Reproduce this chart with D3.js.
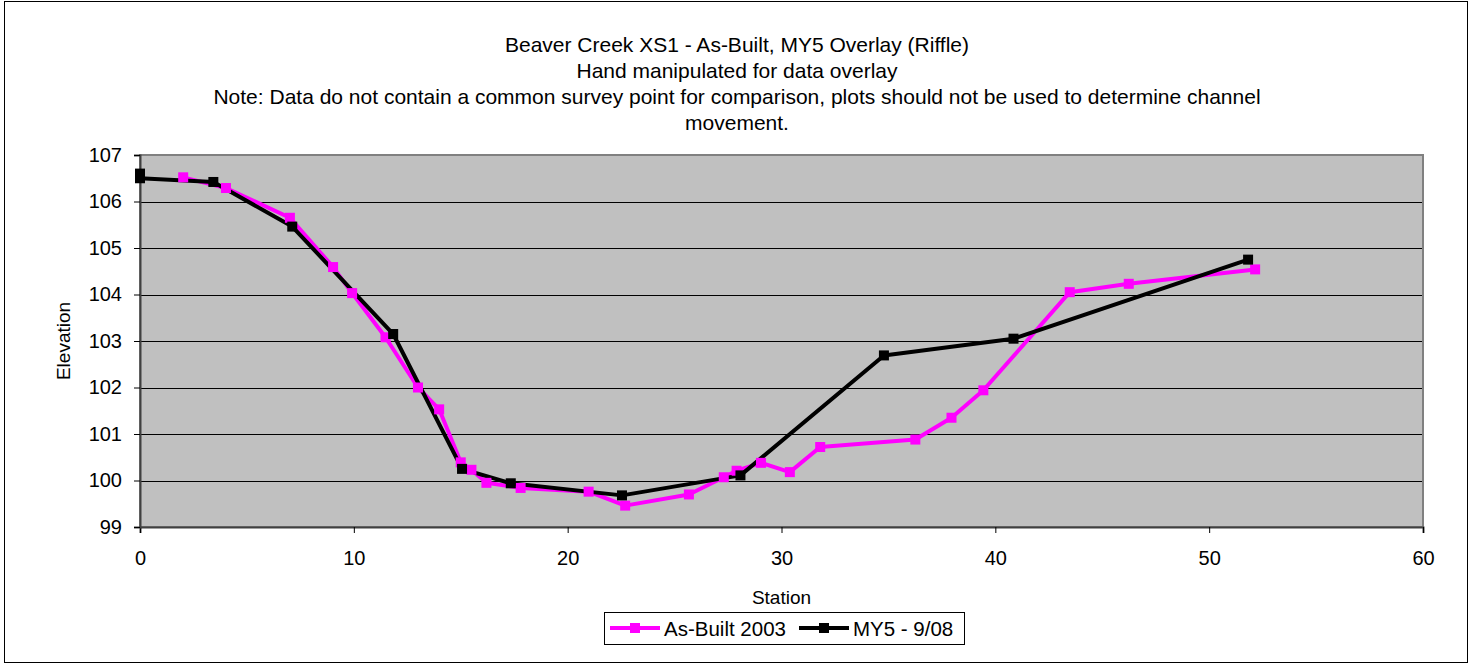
<!DOCTYPE html>
<html><head><meta charset="utf-8">
<script src="https://cdn.jsdelivr.net/npm/d3@7"></script>
<style>body{margin:0;background:#fff}svg text{font-family:"Liberation Sans",Arial,sans-serif;fill:#000}</style>
</head><body><svg id="c" width="1470" height="664"></svg>
<script>
const titleLines = ["Beaver Creek XS1 - As-Built, MY5 Overlay (Riffle)","Hand manipulated for data overlay","Note: Data do not contain a common survey point for comparison, plots should not be used to determine channel","movement."];
const seriesNames = ["As-Built 2003","MY5 - 9/08"];
const asBuiltStation = [2.02,4.02,7.01,9.03,9.92,11.48,13.0,13.99,15.0,15.5,16.2,17.8,20.98,22.69,25.67,27.3,27.9,29.04,30.39,31.81,36.26,37.95,39.44,43.48,46.24,52.15];
const asBuiltElev =    [106.52,106.29,105.65,104.59,104.03,103.08,102.0,101.53,100.39,100.23,99.95,99.84,99.76,99.46,99.70,100.07,100.21,100.38,100.18,100.72,100.88,101.35,101.94,104.05,104.23,104.54];
const my5Station = [0,0,3.43,7.12,11.84,15.06,17.34,22.54,28.08,34.79,40.85,51.82];
const my5Elev =    [106.6,106.5,106.42,105.46,103.15,100.25,99.94,99.68,100.11,102.69,103.05,104.75];
const xTicks = [0,10,20,30,40,50,60];
const yTicks = [99,100,101,102,103,104,105,106,107];

const svg = d3.select("#c");
const L=140,R=1423,T=155,B=527;
const x = d3.scaleLinear().domain([0,60]).range([L,R]);
const y = d3.scaleLinear().domain([99,107]).range([B,T]);

svg.append("rect").attr("x",4.5).attr("y",1.5).attr("width",1463).attr("height",661).attr("fill","#fff").attr("stroke","#000").attr("stroke-width",1);

// title
const t = svg.append("text").attr("text-anchor","middle").attr("font-size",21);
titleLines.forEach((s,i)=>t.append("tspan").attr("x",737).attr("y",[52,78,104,130][i]).text(s));

// plot area
svg.append("rect").attr("x",L).attr("y",T).attr("width",R-L).attr("height",B-T).attr("fill","#c0c0c0");
svg.append("g").selectAll("line").data(yTicks.slice(1)).join("line")
  .attr("x1",L).attr("x2",R).attr("y1",d=>Math.round(y(d))+0.5).attr("y2",d=>Math.round(y(d))+0.5)
  .attr("stroke","#000").attr("stroke-width",1);
svg.append("rect").attr("x",L).attr("y",T).attr("width",R-L).attr("height",B-T).attr("fill","none").attr("stroke","#808080").attr("stroke-width",2);

// axes
const xa = svg.append("g").attr("transform",`translate(0,${B})`).call(d3.axisBottom(x).tickValues(xTicks).tickSize(6).tickPadding(18));
const ya = svg.append("g").attr("transform",`translate(${L},0)`).call(d3.axisLeft(y).tickValues(yTicks).tickSize(6).tickPadding(12));
[xa,ya].forEach(a=>{a.select(".domain").attr("stroke","#404040").attr("stroke-width",2);a.selectAll(".tick line").attr("stroke","#000");a.selectAll("text").attr("font-size",20).attr("font-family","Liberation Sans, Arial, sans-serif");});

svg.append("text").attr("x",(L+R)/2).attr("y",604).attr("text-anchor","middle").attr("font-size",19).text("Station");
svg.append("text").attr("transform",`translate(70,${(T+B)/2}) rotate(-90)`).attr("text-anchor","middle").attr("font-size",19).text("Elevation");

// series
const ab = asBuiltStation.map((s,i)=>[s,asBuiltElev[i]]);
const my = my5Station.map((s,i)=>[s,my5Elev[i]]);
const line = d3.line().x(d=>x(d[0])).y(d=>y(d[1]));
const colors = ["#ff00ff","#000000"];
[ab,my].forEach((d,i)=>svg.append("path").datum(d).attr("d",line).attr("fill","none").attr("stroke",colors[i]).attr("stroke-width",4).attr("stroke-linejoin","round"));
const ms=10;
[ab,my].forEach((d,i)=>svg.append("g").selectAll("rect").data(d).join("rect")
  .attr("x",p=>x(p[0])-ms/2).attr("y",p=>y(p[1])-ms/2).attr("width",ms).attr("height",ms).attr("fill",colors[i]));

// legend
const lg = svg.append("g");
lg.append("rect").attr("x",604.5).attr("y",612.5).attr("width",360).attr("height",32).attr("fill","#fff").attr("stroke","#000");
const lx=[610,799];
seriesNames.forEach((n,i)=>{
  lg.append("line").attr("x1",lx[i]).attr("x2",lx[i]+50).attr("y1",628).attr("y2",628).attr("stroke",colors[i]).attr("stroke-width",4);
  lg.append("rect").attr("x",lx[i]+25-5).attr("y",623).attr("width",10).attr("height",10).attr("fill",colors[i]);
  lg.append("text").attr("x",lx[i]+54).attr("y",636).attr("font-size",20.5).text(n);
});
</script></body></html>
